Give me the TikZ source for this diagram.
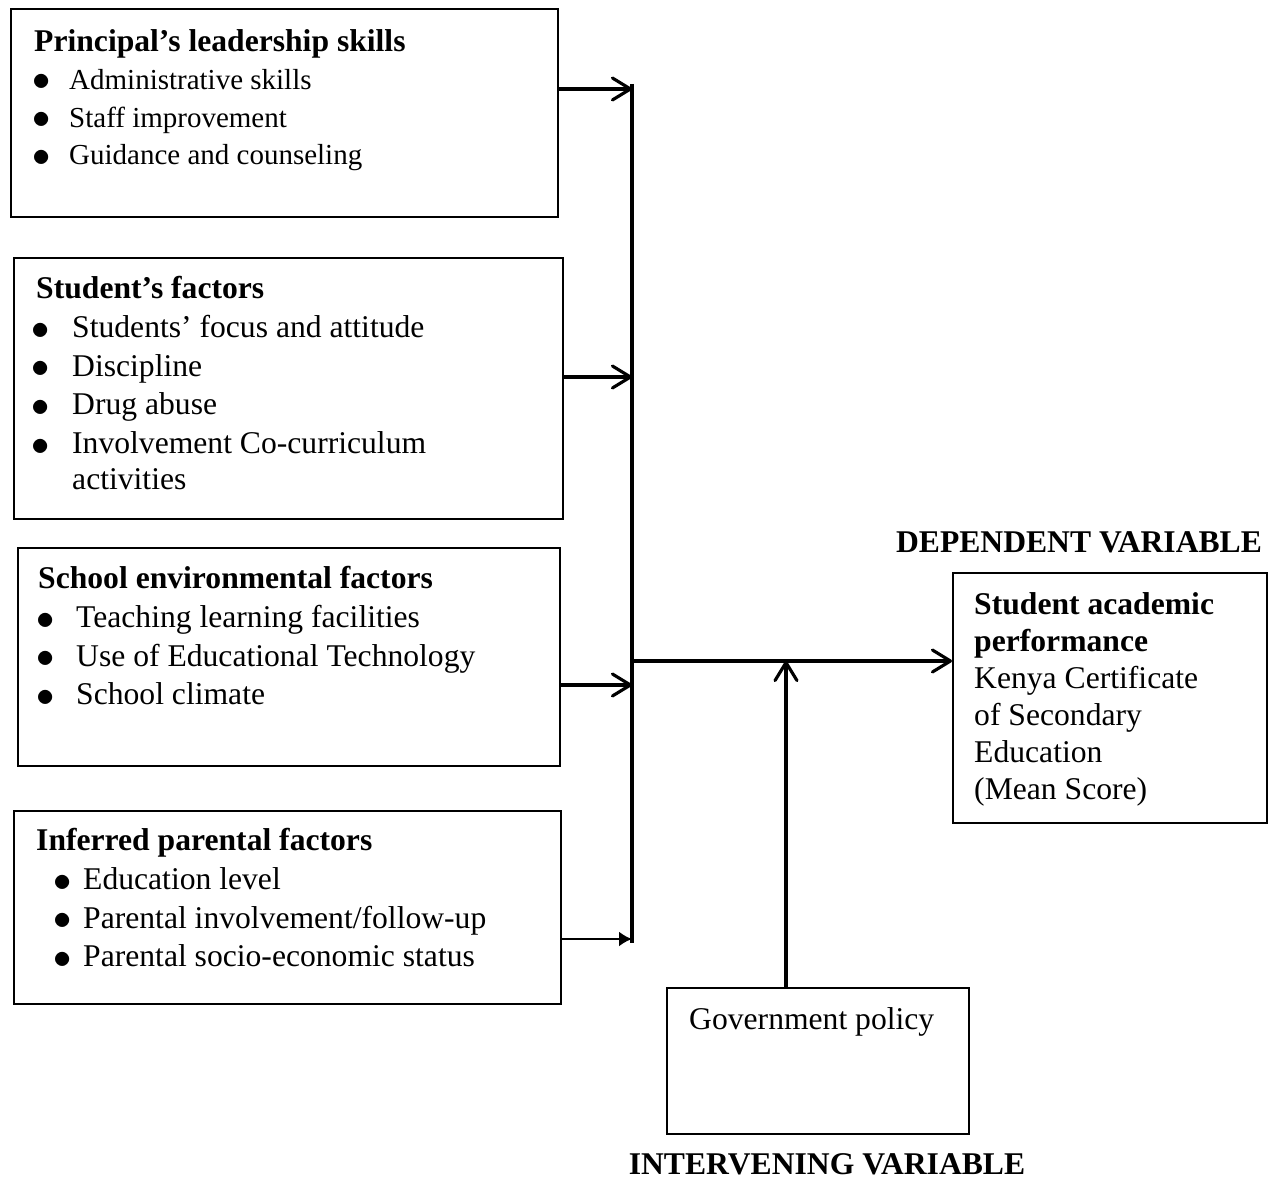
\documentclass[tikz,border=0pt]{standalone}
\usepackage{fontspec}
\usepackage{graphicx}
\setmainfont{Liberation Serif}
\usetikzlibrary{arrows.meta}
\tikzstyle{factorblock} = [rectangle, draw, line width=1.4pt, anchor=north west, font=\fontsize{18}{22}\selectfont]
\tikzstyle{varlabel} = [anchor=base, font=\fontsize{18}{22}\selectfont\bfseries]
\tikzstyle{link} = [line width=1.8pt]

\newcommand{\blocktext}[3]{\parbox[t][#1][t]{#2}{#3}}
\newcommand{\bigdot}{\raisebox{-0.9pt}{\scalebox{1.2}{$\bullet$}}}
\newcommand{\pitem}[3]{\par\noindent\hangindent=#2\hangafter=1\makebox[#2][l]{\hspace{#1}\bigdot}#3}

\begin{document}
\begin{tikzpicture}[x=0.02cm, y=-0.02cm, >={Straight Barb[length=0.36cm,width=0.44cm,round]}]
   \useasboundingbox (0,0) rectangle (1285,1182);
   % independent variables
   \node[factorblock, inner xsep=0.46cm, inner ysep=0.408cm] (pls) at (10,8) {\blocktext{3.344cm}{10.02cm}{%
      {\bfseries Principal’s leadership skills}
      \fontsize{16.5}{21.5}\selectfont
      \pitem{-0.03cm}{0.7cm}{Administrative skills}
      \pitem{-0.03cm}{0.7cm}{Staff improvement}
      \pitem{-0.03cm}{0.7cm}{Guidance and counseling}}};
   \node[factorblock, inner xsep=0.44cm, inner ysep=0.368cm] (sf) at (13,257) {\blocktext{4.484cm}{10.1cm}{%
      {\bfseries Student’s factors}
      \pitem{-0.09cm}{0.72cm}{Students’ focus and attitude}
      \pitem{-0.09cm}{0.72cm}{Discipline}
      \pitem{-0.09cm}{0.72cm}{Drug abuse}
      \pitem{-0.09cm}{0.72cm}{Involvement Co-curriculum\\[-1.6pt]activities}}};
   \node[factorblock, inner xsep=0.4cm, inner ysep=0.368cm] (sef) at (17,547) {\blocktext{3.624cm}{10.04cm}{%
      {\bfseries School environmental factors}
      \pitem{-0.03cm}{0.76cm}{Teaching learning facilities}
      \pitem{-0.03cm}{0.76cm}{Use of Educational Technology}
      \pitem{-0.03cm}{0.76cm}{School climate}}};
   \node[factorblock, inner xsep=0.44cm, inner ysep=0.348cm] (ipf) at (13,810) {\blocktext{3.164cm}{10.06cm}{%
      {\bfseries Inferred parental factors}
      \pitem{0.35cm}{0.94cm}{Education level}
      \pitem{0.35cm}{0.94cm}{Parental involvement/follow-up}
      \pitem{0.35cm}{0.94cm}{Parental socio-economic status}}};

   % dependent and intervening variables
   \node[factorblock, inner xsep=0.42cm, inner ysep=0.388cm] (sap) at (952,572) {\blocktext{4.224cm}{5.44cm}{%
      \fontsize{18}{21}\selectfont
      {\bfseries Student academic\\performance}\\
      Kenya Certificate\\of Secondary\\Education\\(Mean Score)}};
   \node[factorblock, inner xsep=0.44cm, inner ysep=0.388cm] (gp) at (666,987) {\blocktext{2.144cm}{5.16cm}{Government policy}};
   \node[varlabel] (dv) at (1079,552) {DEPENDENT VARIABLE};
   \node[varlabel] (iv) at (827,1174) {INTERVENING VARIABLE};

   % joints on the bus
   \coordinate (bustop) at (632,84);
   \coordinate (busbot) at (632,943);
   \coordinate (j1) at (632,89);
   \coordinate (j2) at (632,377);
   \coordinate (j3) at (632,685);
   \coordinate (j4) at (632,939);
   \coordinate (jm) at (632,661);
   \coordinate (jg) at (786,661);

   % edges
   \draw[link, line width=2pt] (bustop) -- (busbot);
   \draw[link, ->] (pls.east |- j1) -- (j1);
   \draw[link, ->] (sf.east |- j2) -- (j2);
   \draw[link, ->] (sef.east |- j3) -- (j3);
   \draw[link, line width=1.2pt, -{Latex[length=0.26cm,width=0.3cm]}] (ipf.east |- j4) -- (j4);
   \draw[link, ->] (jm) -- (sap.west |- jm);
   \draw[link, ->] (gp.north -| jg) -- (jg);
\end{tikzpicture}
\end{document}
